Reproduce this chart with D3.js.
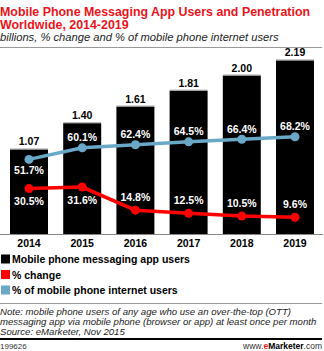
<!DOCTYPE html>
<html>
<head>
<meta charset="utf-8">
<script src="https://cdn.jsdelivr.net/npm/d3@7"></script>
<style>
  body { margin: 0; background: #fff; }
  svg { display: block; font-family: "Liberation Sans", Arial, sans-serif; }
</style>
</head>
<body>
<div id="chart"></div>
<script>
// messaging app users, billions, plus % change and penetration
var years = ["2014", "2015", "2016", "2017", "2018", "2019"];
var users = [1.07, 1.40, 1.61, 1.81, 2.00, 2.19];
var pctChange = [30.5, 31.6, 14.8, 12.5, 10.5, 9.6];
var pctPhoneNet = [51.7, 60.1, 62.4, 64.5, 66.4, 68.2];
// which labels sit under their point instead of over it
var changeBelow = [true, true, false, false, false, false];
var netBelow = [true, false, false, false, false, false];

var legendLabels = ["Mobile phone messaging app users", "% change", "% of mobile phone internet users"];
var legendColors = ["#000000", "#ff0000", "#6aa8c8"];

var width = 324, height = 351;
var svg = d3.select("#chart").append("svg")
    .attr("width", width)
    .attr("height", height);

// header
var title = svg.append("text")
    .attr("x", 0)
    .attr("fill", "#e8141b")
    .style("font-weight", "bold")
    .style("font-size", "12.4px");
title.append("tspan").attr("x", 0).attr("y", 16).text("Mobile Phone Messaging App Users and Penetration");
title.append("tspan").attr("x", 0).attr("y", 29).text("Worldwide, 2014-2019");

svg.append("text")
    .attr("x", 0).attr("y", 41)
    .style("font-style", "italic")
    .style("font-size", "11.2px")
    .attr("fill", "#222")
    .text("billions, % change and % of mobile phone internet users");

svg.append("line")
    .attr("x1", 0).attr("x2", 322).attr("y1", 47.5).attr("y2", 47.5)
    .attr("stroke", "#999").attr("stroke-width", 1);

var x = d3.scaleBand()
    .domain(years)
    .range([2.4, 321.6])
    .paddingInner(0.286)
    .paddingOuter(0.143);

var y = d3.scaleLinear().domain([0, 2.2]).range([234.5, 59.6]);
var yPct = d3.scaleLinear().domain([0, 70]).range([230.5, 134.25]);

// bars
svg.append("g").selectAll("rect")
    .data(users)
    .join("rect")
    .attr("x", function(d, i){ return x(years[i]); })
    .attr("y", function(d){ return y(d); })
    .attr("width", x.bandwidth())
    .attr("height", function(d){ return y(0) - y(d); })
    .attr("fill", "#000");

svg.append("g").selectAll("line")
    .data(users)
    .join("line")
    .attr("x1", function(d, i){ return x(years[i]); })
    .attr("x2", function(d, i){ return x(years[i]) + x.bandwidth(); })
    .attr("y1", function(d){ return y(d) - 0.5; })
    .attr("y2", function(d){ return y(d) - 0.5; })
    .attr("stroke", "#aaa");

svg.append("g").selectAll("text")
    .data(users)
    .join("text")
    .attr("x", function(d, i){ return x(years[i]) + x.bandwidth() / 2; })
    .attr("y", function(d){ return y(d) - 4; })
    .attr("text-anchor", "middle")
    .style("font-weight", "bold")
    .style("font-size", "10.5px")
    .text(function(d){ return d.toFixed(2); });

// baseline and year labels
svg.append("line")
    .attr("x1", 0).attr("x2", 323).attr("y1", 234.5).attr("y2", 234.5)
    .attr("stroke", "#888");

svg.append("g").selectAll("text")
    .data(years)
    .join("text")
    .attr("x", function(d){ return x(d) + x.bandwidth() / 2; })
    .attr("y", 246.5)
    .attr("text-anchor", "middle")
    .style("font-weight", "bold")
    .style("font-size", "10.5px")
    .text(function(d){ return d; });

function drawSeries(values, color, below, offAbove, offBelow){
    var line = d3.line()
        .x(function(d, i){ return x(years[i]) + x.bandwidth() / 2; })
        .y(function(d){ return yPct(d); });
    var g = svg.append("g");
    g.append("path")
        .datum(values)
        .attr("d", line)
        .attr("fill", "none")
        .attr("stroke", color)
        .attr("stroke-width", 3.5);
    g.selectAll("circle")
        .data(values)
        .join("circle")
        .attr("cx", function(d, i){ return x(years[i]) + x.bandwidth() / 2; })
        .attr("cy", function(d){ return yPct(d); })
        .attr("r", 4.5)
        .attr("fill", color);
    g.selectAll("text")
        .data(values)
        .join("text")
        .attr("x", function(d, i){ return x(years[i]) + x.bandwidth() / 2; })
        .attr("y", function(d, i){ return below[i] ? yPct(d) + offBelow : yPct(d) - offAbove; })
        .attr("text-anchor", "middle")
        .attr("fill", "#fff")
        .style("font-weight", "bold")
        .style("font-size", "10.5px")
        .text(function(d){ return d.toFixed(1) + "%"; });
}

drawSeries(pctChange, "#ff0000", changeBelow, 9, 16.5);
drawSeries(pctPhoneNet, "#6aa8c8", netBelow, 6.5, 14.5);

// legend
var legend = svg.append("g").selectAll("g")
    .data(legendLabels)
    .join("g")
    .attr("transform", function(d, i){ return "translate(1," + (254.5 + i * 15.5) + ")"; });
legend.append("rect")
    .attr("width", 9).attr("height", 9)
    .attr("fill", function(d, i){ return legendColors[i]; });
legend.append("text")
    .attr("x", 11).attr("y", 8.5)
    .style("font-weight", "bold")
    .style("font-size", "10.5px")
    .text(function(d){ return d; });

svg.append("line")
    .attr("x1", 0).attr("x2", 322).attr("y1", 303.5).attr("y2", 303.5)
    .attr("stroke", "#999");

// notes
var note = svg.append("text")
    .style("font-style", "italic")
    .style("font-size", "9.6px")
    .attr("fill", "#222");
note.append("tspan").attr("x", 0).attr("y", 315)
    .text("Note: mobile phone users of any age who use an over-the-top (OTT)");
note.append("tspan").attr("x", 0).attr("y", 325)
    .text("messaging app via mobile phone (browser or app) at least once per month");
note.append("tspan").attr("x", 0).attr("y", 334.5)
    .text("Source: eMarketer, Nov 2015");

svg.append("line")
    .attr("x1", 0).attr("x2", 322).attr("y1", 339).attr("y2", 339)
    .attr("stroke", "#000").attr("stroke-width", 2);

svg.append("text")
    .attr("x", 0).attr("y", 348.5)
    .style("font-size", "8px")
    .attr("fill", "#333")
    .text("199626");

var brand = svg.append("text")
    .attr("x", 322).attr("y", 348.5)
    .attr("text-anchor", "end")
    .style("font-size", "8.5px")
    .attr("fill", "#333");
brand.append("tspan").text("www.");
brand.append("tspan").attr("fill", "#e8141b").style("font-weight", "bold").text("e");
brand.append("tspan").style("font-weight", "bold").attr("fill", "#000").text("Marketer");
brand.append("tspan").text(".com");
</script>
</body>
</html>
